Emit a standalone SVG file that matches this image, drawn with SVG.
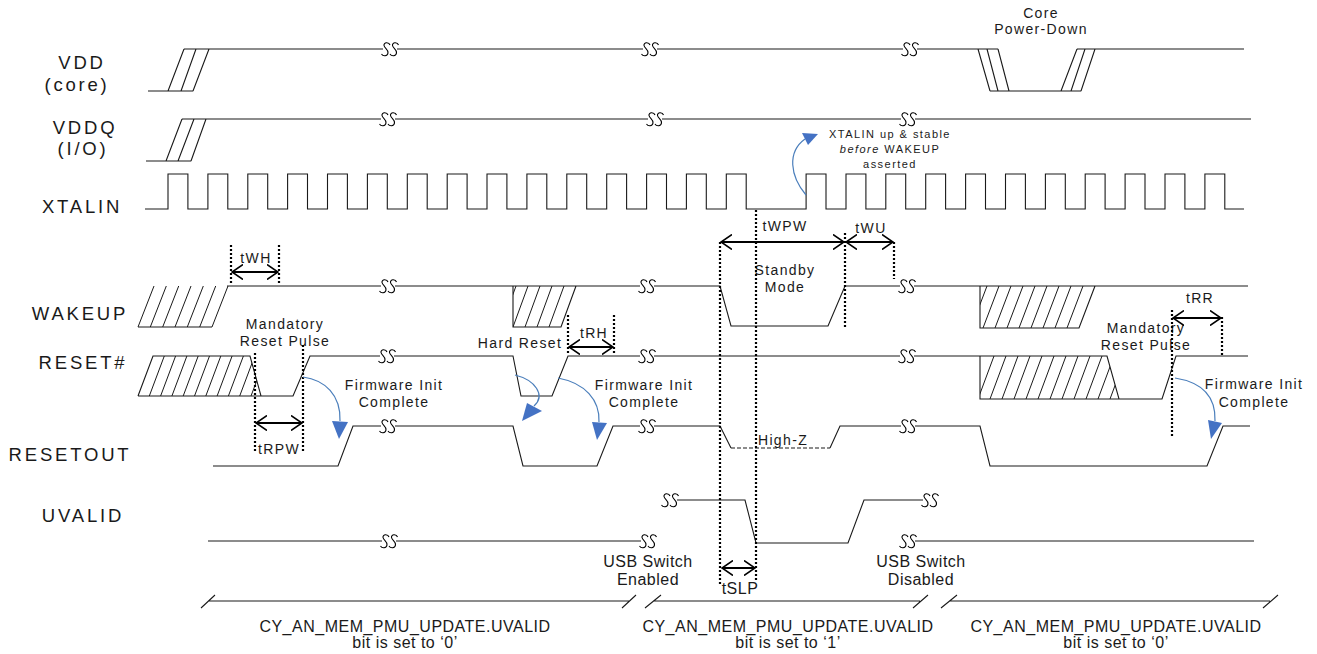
<svg xmlns="http://www.w3.org/2000/svg" xmlns:xlink="http://www.w3.org/1999/xlink" width="1317" height="654" viewBox="0 0 1317 654">
<style>
.sig{fill:none;stroke:#1a1a1a;stroke-width:1.1}
.hat{fill:none;stroke:#1a1a1a;stroke-width:1}
.dash{fill:none;stroke:#1a1a1a;stroke-width:1.2;stroke-dasharray:4 2}
.dot{fill:none;stroke:#000;stroke-width:2.2;stroke-dasharray:2 2}
.tarr{fill:none;stroke:#000;stroke-width:2;marker-start:url(#ah);marker-end:url(#ah)}
.blue{fill:none;stroke:#4a7ebb;stroke-width:1.2}
.bhead{fill:#4472c4;stroke:none}
.lbl{font-family:"Liberation Sans",Arial,sans-serif;font-size:18.5px;letter-spacing:2.8px;fill:#1a1a1a;text-anchor:middle}
.ann{font-family:"Liberation Sans",Arial,sans-serif;font-size:14px;letter-spacing:1.35px;fill:#1a1a1a;text-anchor:middle}
.note{font-family:"Liberation Sans",Arial,sans-serif;font-size:11px;letter-spacing:1.45px;fill:#1a1a1a;text-anchor:middle}
.bot{font-family:"Liberation Sans",Arial,sans-serif;font-size:16px;letter-spacing:0.5px;fill:#1a1a1a;text-anchor:middle}
</style>
<defs>
<marker id="ah" viewBox="0 0 12 16" refX="11" refY="8" markerWidth="12" markerHeight="16" markerUnits="userSpaceOnUse" orient="auto-start-reverse">
<path d="M0,0.5 L11,8 L0,15.5" fill="none" stroke="#000" stroke-width="1.6"/>
</marker>
<g id="ss">
<rect x="-7" y="-2" width="14" height="4" fill="#fff"/>
<path d="M0,-4 C-1,-7 -6.5,-7 -6,-3.5 C-5.5,-0.5 -1.5,0.5 -2,4 C-2.5,7.5 -7,7.5 -8.5,5 M8.5,-4 C7.5,-7 2,-7 2.5,-3.5 C3,-0.5 7,0.5 6.5,4 C6,7.5 1.5,7.5 0,5" fill="none" stroke="#000" stroke-width="1.1"/>
</g>
<clipPath id="cw2"><polygon points="513,286 576,286 561,327 513,327"/></clipPath>
<clipPath id="cw3"><polygon points="980,286 1095,286 1079,328 980,328"/></clipPath>
<clipPath id="cr1"><polygon points="138,396 153,356 250,356 261,396"/></clipPath>
<clipPath id="cr3"><polygon points="980,356 1107,356 1119,399 980,399"/></clipPath>
</defs>
<rect x="0" y="0" width="1317" height="654" fill="#fff"/>

<g id="labels">
<text class="lbl" x="82" y="69">VDD</text>
<text class="lbl" x="77" y="91">(core)</text>
<text class="lbl" x="85" y="134">VDDQ</text>
<text class="lbl" x="83" y="155">(I/O)</text>
<text class="lbl" x="82" y="213">XTALIN</text>
<text class="lbl" x="80" y="320">WAKEUP</text>
<text class="lbl" x="83" y="369">RESET#</text>
<text class="lbl" x="70" y="461">RESETOUT</text>
<text class="lbl" x="83" y="522">UVALID</text>
</g>

<g id="sig-vdd">
<path class="sig" d="M148,91 H193 M168,91 L184,49 M181,91 L196,49 M193,91 L209,49 M184,49 H998 M978,49 L990,91 M987,49 L998,91 M998,49 L1009,91 M990,91 H1081 M1061,91 L1077,49 M1071,91 L1085,49 M1081,91 L1095,49 M1077,49 H1244"/>
<use href="#ss" x="390" y="49"/><use href="#ss" x="650" y="49"/><use href="#ss" x="910" y="49"/>
<text class="ann" x="1041" y="18">Core</text>
<text class="ann" x="1041" y="34">Power-Down</text>
</g>

<g id="sig-vddq">
<path class="sig" d="M146,161 H191 M166,161 L182,119 M178,161 L194,119 M191,161 L206,119 M182,119 H1251"/>
<use href="#ss" x="388" y="119"/><use href="#ss" x="655" y="119"/><use href="#ss" x="908" y="119"/>
</g>

<g id="sig-xtalin">
<path class="sig" d="M145,209 H168 V174 H187.9 V209 H207.9 V174 H227.8 V209 H247.8 V174 H267.7 V209 H287.6 V174 H307.5 V209 H327.5 V174 H347.4 V209 H367.4 V174 H387.3 V209 H407.3 V174 H427.2 V209 H447.2 V174 H467.1 V209 H487 V174 H506.9 V209 H526.9 V174 H546.8 V209 H566.8 V174 H586.7 V209 H606.7 V174 H626.6 V209 H646.6 V174 H666.5 V209 H686.4 V174 H706.3 V209 H726.3 V174 H746.2 V209 H806.1 V174 H826 V209 H846 V174 H865.9 V209 H885.8 V174 H905.7 V209 H925.7 V174 H945.6 V209 H965.6 V174 H985.5 V209 H1005.5 V174 H1025.4 V209 H1045.4 V174 H1065.3 V209 H1085.2 V174 H1105.1 V209 H1125.1 V174 H1145 V209 H1165 V174 H1184.9 V209 H1204.9 V174 H1224.8 V209 H1244"/>
<text class="note" x="890" y="138">XTALIN up &amp; stable</text>
<text class="note" x="890" y="153"><tspan font-style="italic">before</tspan> WAKEUP</text>
<text class="note" x="890" y="168">asserted</text>
</g>

<g id="sig-wakeup">
<path class="hat" d="M138,327 H212 M138,327 L154,286 M150.3,327 L166.3,286 M162.7,327 L178.7,286 M175,327 L191,286 M187.3,327 L203.3,286 M199.7,327 L215.7,286 M212,327 L228,286"/>
<path class="hat" clip-path="url(#cw2)" d="M549,327 L564,286 M537,327 L552,286 M525,327 L540,286 M513,327 L528,286 M501,327 L516,286"/>
<path class="hat" clip-path="url(#cw3)" d="M1067,328 L1083,286 M1055,328 L1071,286 M1043,328 L1059,286 M1031,328 L1047,286 M1019,328 L1035,286 M1007,328 L1023,286 M995,328 L1011,286 M983,328 L999,286 M971,328 L987,286"/>
<path class="sig" d="M227,286 H720 L731,326 H828 L845,286 H1248 M513,286 V327 H561 L576,286 M980,286 V328 H1079 L1095,286"/>
<use href="#ss" x="388" y="286"/><use href="#ss" x="647" y="286"/><use href="#ss" x="907" y="286"/>
<text class="ann" x="785" y="275">Standby</text>
<text class="ann" x="785" y="292">Mode</text>
</g>

<g id="sig-reset">
<path class="hat" clip-path="url(#cr1)" d="M149.3,396 L164.3,356 M160.6,396 L175.6,356 M171.9,396 L186.9,356 M183.2,396 L198.2,356 M194.5,396 L209.5,356 M205.8,396 L220.8,356 M217.1,396 L232.1,356 M228.4,396 L243.4,356 M239.7,396 L254.7,356 M251,396 L266,356"/>
<path class="hat" clip-path="url(#cr3)" d="M978,399 L994,356 M990,399 L1006,356 M1002,399 L1018,356 M1014,399 L1030,356 M1026,399 L1042,356 M1038,399 L1054,356 M1050,399 L1066,356 M1062,399 L1078,356 M1074,399 L1090,356 M1086,399 L1102,356 M1098,399 L1114,356 M1110,399 L1126,356"/>
<path class="sig" d="M138,396 L153,356 H250 L261,396 H293 L310,356 H513 L521,396 H552 L568,356 H1107 L1119,399 H1162 L1176,356 H1248 M138,396 H261 M980,356 V399 H1119"/>
<use href="#ss" x="387" y="356"/><use href="#ss" x="647" y="356"/><use href="#ss" x="907" y="356"/>
<text class="ann" x="285" y="329">Mandatory</text>
<text class="ann" x="285" y="346">Reset Pulse</text>
<text class="ann" x="520" y="348">Hard Reset</text>
<text class="ann" x="1146" y="333">Mandatory</text>
<text class="ann" x="1146" y="350">Reset Pulse</text>
<text class="ann" x="394" y="390">Firmware Init</text>
<text class="ann" x="394" y="407">Complete</text>
<text class="ann" x="644" y="390">Firmware Init</text>
<text class="ann" x="644" y="407">Complete</text>
<text class="ann" x="1254" y="389">Firmware Init</text>
<text class="ann" x="1254" y="407">Complete</text>
</g>

<g id="sig-resetout">
<path class="sig" d="M213,466 H338 L353,426 H513 L523,466 H597 L613,426 H720 L731,448 M830,448 L840,426 H980 L990,466 H1207 L1223,426 H1250"/>
<path class="dash" d="M731,448 H830"/>
<use href="#ss" x="388" y="426"/><use href="#ss" x="647" y="426"/><use href="#ss" x="908" y="426"/>
<text class="ann" x="783" y="445">High-Z</text>
</g>

<g id="sig-uvalid">
<path class="sig" d="M208,541 H648 M670,500 H745 L756,543 H848 L864,500 H930 M908,541 H1254"/>
<use href="#ss" x="389" y="541"/><use href="#ss" x="648" y="541"/><use href="#ss" x="670" y="500"/><use href="#ss" x="930" y="500"/><use href="#ss" x="908" y="541"/>
<text class="bot" x="648" y="567">USB Switch</text>
<text class="bot" x="648" y="585">Enabled</text>
<text class="bot" x="921" y="567">USB Switch</text>
<text class="bot" x="921" y="585">Disabled</text>
</g>

<g id="register-phases">
<path class="sig" d="M208,601 H629 M201,608 L215,595 M622,608 L636,595 M653,601 H920 M645,608 L661,595 M913,608 L928,595 M949,601 H1270 M941,608 L957,595 M1263,608 L1278,595"/>
<text class="bot" x="405" y="632">CY_AN_MEM_PMU_UPDATE.UVALID</text>
<text class="bot" x="405" y="648">bit is set to ‘0’</text>
<text class="bot" x="788" y="632">CY_AN_MEM_PMU_UPDATE.UVALID</text>
<text class="bot" x="788" y="648">bit is set to ‘1’</text>
<text class="bot" x="1116" y="632">CY_AN_MEM_PMU_UPDATE.UVALID</text>
<text class="bot" x="1116" y="648">bit is set to ‘0’</text>
</g>

<g id="connectors">
<path class="dot" d="M231,245 V285 M279,245 V285 M255,353 V452 M303,345 V452 M568,315 V355 M614,315 V355 M720,242 V585 M756,210 V580 M845,233 V327 M894,242 V279 M1172,310 V438 M1222,317 V355"/>
<path class="tarr" d="M232,272 H278"/>
<path class="tarr" d="M256,423 H302"/>
<path class="tarr" d="M569,347 H613"/>
<path class="tarr" d="M721,242 H844"/>
<path class="tarr" d="M846,242 H893"/>
<path class="tarr" d="M1173,318 H1221"/>
<path class="tarr" d="M722,568 H755"/>
<text class="ann" x="256" y="263">tWH</text>
<text class="ann" x="279" y="454">tRPW</text>
<text class="ann" x="594" y="338">tRH</text>
<text class="ann" x="785" y="231">tWPW</text>
<text class="ann" x="871" y="233">tWU</text>
<text class="ann" x="1200" y="303">tRR</text>
<text class="bot" x="740" y="594">tSLP</text>
<path class="blue" d="M806,195 C790,176 787,152 805,139"/>
<polygon class="bhead" points="818,134 802,133 808,145"/>
<path class="blue" d="M303,377 C325,380 341,395 340,421"/>
<polygon class="bhead" points="332,421 348,422 339,439"/>
<path class="blue" d="M515,375 C535,380 546,395 534,406"/>
<polygon class="bhead" points="527,403 542,411 522,421"/>
<path class="blue" d="M558,378 C585,383 600,400 599,422"/>
<polygon class="bhead" points="592,422 607,423 597,440"/>
<path class="blue" d="M1175,378 C1200,382 1216,395 1215,421"/>
<polygon class="bhead" points="1208,420 1222,423 1211,439"/>
</g>
</svg>
